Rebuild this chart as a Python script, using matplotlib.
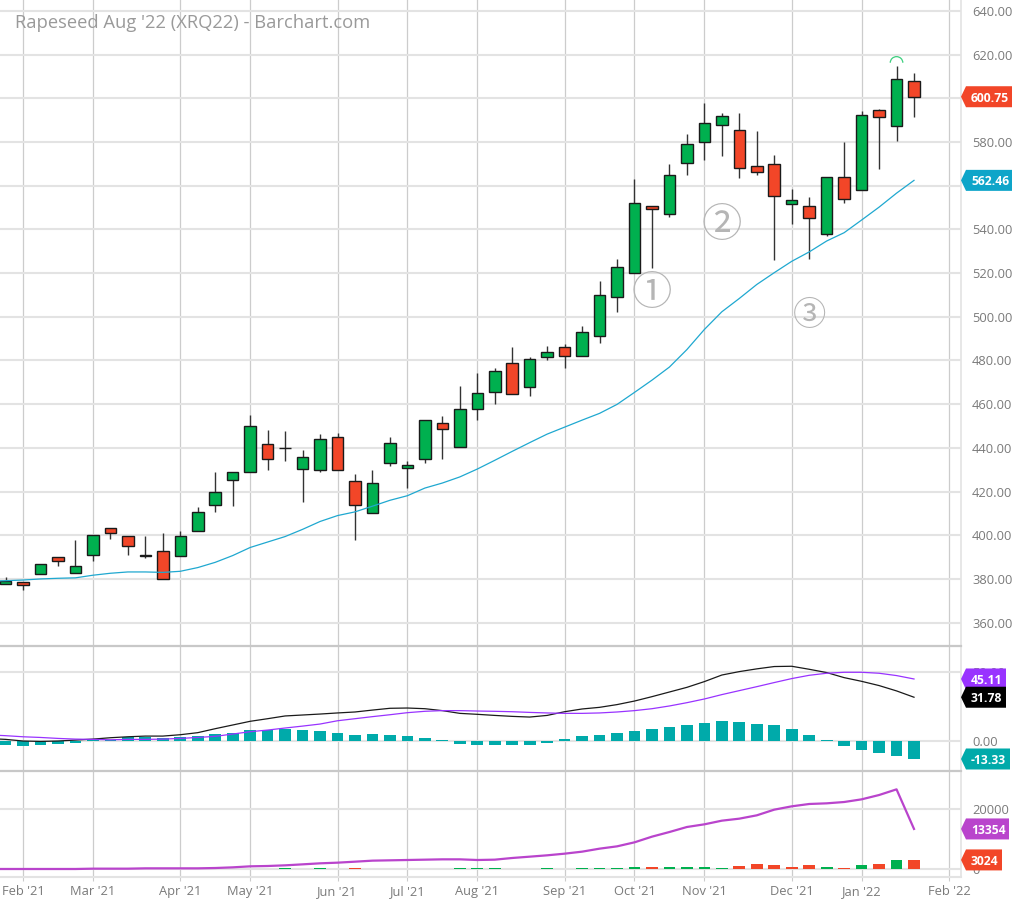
import matplotlib
matplotlib.use("Agg")
import matplotlib.pyplot as plt
from matplotlib.patches import Arc, Polygon
from matplotlib.transforms import IdentityTransform
import numpy as np

plt.rcParams["font.family"] = ["Open Sans", "DejaVu Sans"]

# weekly candles
opens = [377.6, 378.5, 382.1, 389.9, 382.9, 390.8, 403.4, 399.8, 390.6, 392.7, 390.4, 401.8, 413.9, 425.2,
         428.9, 442.0, 440.0, 430.2, 429.9, 444.9, 425.0, 410.4, 433.1, 430.9, 434.9, 451.5, 440.2, 457.6,
         465.7, 479.0, 467.8, 481.6, 486.4, 482.0, 491.0, 508.9, 520.0, 550.6, 547.1, 570.2, 580.0, 587.6,
         585.5, 569.1, 570.0, 551.5, 550.8, 538.1, 563.8, 558.1, 594.6, 587.3, 607.8]
highs = [380.8, 378.5, 386.7, 389.9, 397.9, 400.3, 403.4, 399.8, 399.8, 400.9, 401.8, 412.8, 428.9, 428.9,
         455.1, 448.2, 447.5, 439.1, 446.4, 447.0, 428.0, 430.0, 445.0, 434.0, 452.7, 454.7, 468.3, 474.4,
         476.5, 486.0, 481.6, 486.6, 487.5, 495.7, 516.5, 526.5, 563.1, 550.6, 569.9, 583.9, 597.7, 593.1,
         593.3, 585.2, 573.9, 558.4, 554.9, 563.8, 580.0, 594.2, 595.1, 615.0, 611.5]
lows = [377.6, 375.0, 382.1, 386.0, 382.9, 388.4, 398.5, 391.0, 389.8, 380.0, 390.4, 401.8, 410.8, 413.4,
        428.9, 429.9, 434.2, 415.0, 429.0, 429.9, 397.9, 410.4, 431.6, 421.5, 433.1, 435.1, 440.2, 452.6,
        460.0, 464.8, 463.9, 480.0, 476.4, 482.0, 488.0, 502.1, 520.0, 522.3, 545.9, 565.1, 572.0, 573.4,
        563.6, 565.1, 526.0, 542.5, 526.5, 537.2, 552.3, 558.1, 567.6, 580.7, 591.3]
closes = [379.1, 377.3, 386.7, 388.1, 385.8, 400.3, 400.9, 395.0, 391.0, 380.2, 399.5, 410.8, 419.8, 428.9,
          449.9, 435.1, 440.0, 435.9, 444.0, 429.9, 414.0, 424.1, 442.1, 432.2, 452.7, 448.6, 457.8, 465.2,
          475.3, 464.8, 480.9, 483.7, 481.9, 493.0, 510.2, 522.6, 552.3, 549.2, 565.1, 579.0, 588.7, 591.9,
          567.9, 566.4, 555.2, 553.7, 545.1, 563.8, 554.1, 592.2, 591.3, 608.7, 600.75]
# line series start one week earlier, the chart is cut off on the left
moving_avg = [379.0, 379.2, 379.5, 380.0, 380.3, 380.5, 381.7, 382.6, 383.2, 383.2, 383.0, 383.5, 385.2, 387.6, 390.7,
              394.4, 396.9, 399.4, 402.7, 406.3, 409.0, 410.7, 413.3, 416.0, 418.1, 421.6, 423.9, 426.7, 430.3,
              434.3, 438.4, 442.4, 446.3, 449.5, 452.7, 455.8, 459.9, 465.4, 471.0, 477.0, 485.0, 494.2, 502.3,
              508.4, 514.8, 520.2, 525.4, 529.7, 534.7, 538.5, 544.3, 550.2, 556.6, 562.46]

# MACD panel
macd = [1.6, 1.0, -0.2, -0.5, -0.2, 0.5, 1.2, 2.2, 2.9, 3.4, 3.4, 4.4, 5.9, 8.8, 11.5, 14.2, 16.1, 18.1, 18.8, 19.5,
        20.3, 21.0, 22.4, 23.7, 23.9, 23.4, 22.0, 20.0, 19.3, 18.5, 17.8, 17.3, 18.5, 21.2, 23.2, 24.4, 26.4,
        29.0, 32.2, 35.6, 39.0, 43.2, 48.0, 50.5, 52.5, 54.2, 54.4, 52.2, 49.8, 46.1, 43.4, 40.3, 36.4, 31.78]
signal = [4.3, 3.7, 2.9, 2.4, 1.7, 1.2, 1.0, 0.7, 1.0, 1.0, 1.2, 1.7, 2.4, 3.2, 4.9, 6.6, 7.8, 9.3, 10.7, 12.2, 14.6,
          16.1, 17.6, 19.0, 20.5, 21.5, 22.0, 22.0, 21.7, 21.5, 21.2, 20.7, 20.3, 20.0, 20.0, 20.3, 21.0, 22.0,
          23.4, 25.4, 27.8, 30.5, 33.7, 36.6, 39.5, 42.5, 45.4, 47.8, 49.3, 50.0, 50.0, 49.3, 47.6, 45.11]
hist = [-3.2, -3.7, -3.4, -2.7, -1.7, 0.2, 0.5, 2.4, 2.7, 2.2, 2.7, 3.7, 4.6, 5.9, 7.6, 8.1, 8.5, 7.8, 6.8, 5.6,
        4.4, 4.6, 4.4, 3.4, 2.2, 0.5, -2.2, -2.9, -3.2, -3.4, -3.4, -1.5, 1.2, 3.4, 4.1, 5.6, 7.1, 8.5, 10.0,
        11.5, 12.9, 14.4, 13.7, 12.4, 11.2, 8.8, 4.4, 0.8, -4.1, -6.6, -9.0, -11.2, -13.33]

# volume panel
open_int = [0, 0, 0, 0, 0, 0, 110, 110, 110, 220, 220, 220, 220, 330, 550, 890, 1000, 1220, 1550, 1890, 2110, 2440,
            2780, 2890, 3000, 3110, 3220, 3220, 3000, 3110, 3670, 4110, 4560, 5110, 5780, 6780, 7550, 8890, 10780,
            12330, 14000, 14890, 16110, 16780, 17890, 19780, 20890, 21670, 21890, 22330, 23220, 24660, 26550, 13354]
volume = [0, 0, 0, 0, 0, 0, 0, 0, 0, 0, 0, 0, 60, 60, 60, 60, 330, 60, 220, 60, 220, 60, 60, 60, 110, 60, 220, 220,
          220, 110, 110, 220, 110, 220, 220, 330, 780, 670, 780, 670, 780, 440, 1000, 1560, 1330, 780, 1220, 560,
          220, 1220, 1560, 2890, 3024]
vol_up = [1, 1, 1, 1, 1, 1, 1, 1, 1, 1, 1, 1, 1, 1, 1, 1, 1, 0, 1, 0, 0, 1, 1, 0, 1, 0, 1, 1, 1, 0, 1, 1, 0, 1, 1,
          1, 1, 0, 1, 1, 1, 1, 0, 0, 0, 0, 0, 1, 0, 1, 0, 1, 0]

month_pos = [1, 5, 10, 14, 19, 23, 27, 32, 36, 40, 45, 49, 54]
month_labels = ["Feb '21", "Mar '21", "Apr '21", "May '21", "Jun '21", "Jul '21", "Aug '21", "Sep '21",
                "Oct '21", "Nov '21", "Dec '21", "Jan '22", "Feb '22"]
price_ticks = [360, 380, 400, 420, 440, 460, 480, 500, 520, 540, 560, 580, 600, 620, 640]
# these two sit behind the last price flags
hidden_ticks = [560, 600]

GREEN = "#00b04f"
RED = "#f24628"
TEAL = "#00aaaa"
BLUE = "#1fa8d0"
PURPLE = "#9933ff"
OI_PURPLE = "#b944cc"
GRID = "#e3e3e3"
VGRID = "#cccccc"
LABEL = "#7a7a7a"

W, H = 1013, 905
fig = plt.figure(figsize=(W / 100, H / 100), dpi=100, facecolor="white")


def make_axes(top, bottom):
    ax = fig.add_axes([0, 1 - bottom / H, 961 / W, (bottom - top) / H])
    ax.set_xlim(-0.32, 54.69)
    ax.set_xticks(month_pos)
    ax.grid(True, axis="x", color=VGRID, lw=0.9)
    ax.grid(True, axis="y", color=GRID, lw=1.5)
    ax.set_axisbelow(True)
    ax.yaxis.tick_right()
    ax.tick_params(axis="y", length=0, pad=8, labelsize=9.3, labelcolor=LABEL)
    ax.tick_params(axis="x", length=0, labelbottom=False)
    for name in ["top", "left", "bottom"]:
        ax.spines[name].set_visible(False)
    ax.spines["right"].set_color(GRID)
    ax.spines["right"].set_linewidth(1.2)
    return ax


ax_price = make_axes(0, 646)
ax_macd = make_axes(646, 771)
ax_vol = make_axes(771, 877)

# price panel
x = np.arange(len(closes))
x_line = np.arange(-1, len(closes))
opens = np.array(opens)
closes = np.array(closes)
bottoms = np.minimum(opens, closes)
heights = np.abs(closes - opens)
colors = [GREEN if c >= o else RED for o, c in zip(opens, closes)]
ax_price.vlines(x, lows, highs, color="#333333", lw=1.0, zorder=2)
ax_price.bar(x, heights, bottom=bottoms, width=0.66, color=colors, edgecolor="#1a1a1a", lw=1.0, zorder=3)
ax_price.plot(x_line, moving_avg, color=BLUE, lw=0.9, zorder=4)
ax_price.set_ylim(349.3, 645.03)
ax_price.set_yticks(price_ticks)
ax_price.set_yticklabels(["" if t in hidden_ticks else f"{t:.2f}" for t in price_ticks])

# little arc over the high candle
ax_price.add_patch(Arc((51, 616.3), 0.72, 5.6, theta1=0, theta2=180, color="#3ccf7e", lw=0.9, zorder=4))

# wave counts
count_font = ["Noto Sans CJK SC", "DejaVu Sans"]
ax_price.text(37, 510.5, "\u2460", fontsize=29, color="#b5b5b5", ha="center", va="center", family=count_font)
ax_price.text(41, 541.6, "\u2461", fontsize=29, color="#b5b5b5", ha="center", va="center", family=count_font)
ax_price.text(46, 500.5, "\u2462", fontsize=24, color="#b5b5b5", ha="center", va="center", family=count_font)

# MACD panel
ax_macd.bar(x, hist, width=0.67, color=TEAL, zorder=3)
ax_macd.plot(x_line, macd, color="#1a1a1a", lw=0.9, zorder=4)
ax_macd.plot(x_line, signal, color=PURPLE, lw=0.9, zorder=5)
ax_macd.set_ylim(-22.1, 69.2)
ax_macd.set_yticks([0, 50])
ax_macd.set_yticklabels(["0.00", "50.00"])

# volume panel
vol_colors = [GREEN if u else RED for u in vol_up]
ax_vol.bar(x, volume, width=0.67, color=vol_colors, zorder=3)
ax_vol.plot(x_line, open_int, color=OI_PURPLE, lw=1.6, zorder=4)
ax_vol.set_ylim(-2667, 32667)
ax_vol.set_yticks([0, 20000])
ax_vol.set_yticklabels(["0", "20000"])
ax_vol.set_xticklabels(month_labels)
ax_vol.tick_params(axis="x", length=3, color=VGRID, labelbottom=True, labelsize=9.3, labelcolor=LABEL, pad=3)
ax_vol.spines["bottom"].set_visible(True)
ax_vol.spines["bottom"].set_color(GRID)
ax_vol.spines["bottom"].set_linewidth(1.5)

# panel dividers
for y in [646, 771]:
    fig.add_artist(plt.Line2D([0, 961 / W], [1 - y / H, 1 - y / H], color="#c8c8c8", lw=1.6))


def add_tag(ax, value, text, color, right):
    # price flag on the right axis, positioned in pixels
    yc = ax.transData.transform((0, value))[1]
    pts = [(961, yc), (966, yc + 10.5), (right, yc + 10.5), (right, yc - 10.5), (966, yc - 10.5)]
    fig.add_artist(Polygon(pts, closed=True, facecolor=color, edgecolor="none", transform=IdentityTransform(),
                           zorder=5))
    fig.text(971 / W, yc / H, text, color="white", fontsize=8.7, fontweight="bold", va="center_baseline",
             ha="left", zorder=6)


add_tag(ax_price, 600.75, "600.75", RED, 1012)
add_tag(ax_price, 562.46, "562.46", "#0ea5c9", 1012)
add_tag(ax_macd, 45.11, "45.11", PURPLE, 1006)
add_tag(ax_macd, 31.78, "31.78", "#000000", 1006)
add_tag(ax_macd, -13.33, "-13.33", TEAL, 1010)
add_tag(ax_vol, 13354, "13354", OI_PURPLE, 1009)
add_tag(ax_vol, 3024, "3024", RED, 1002)

fig.text(15 / W, 1 - 23 / H, "Rapeseed Aug '22 (XRQ22) - Barchart.com", color="#9a9a9a", fontsize=13.2,
         va="center", ha="left")

fig.savefig("out.png", dpi=100)
